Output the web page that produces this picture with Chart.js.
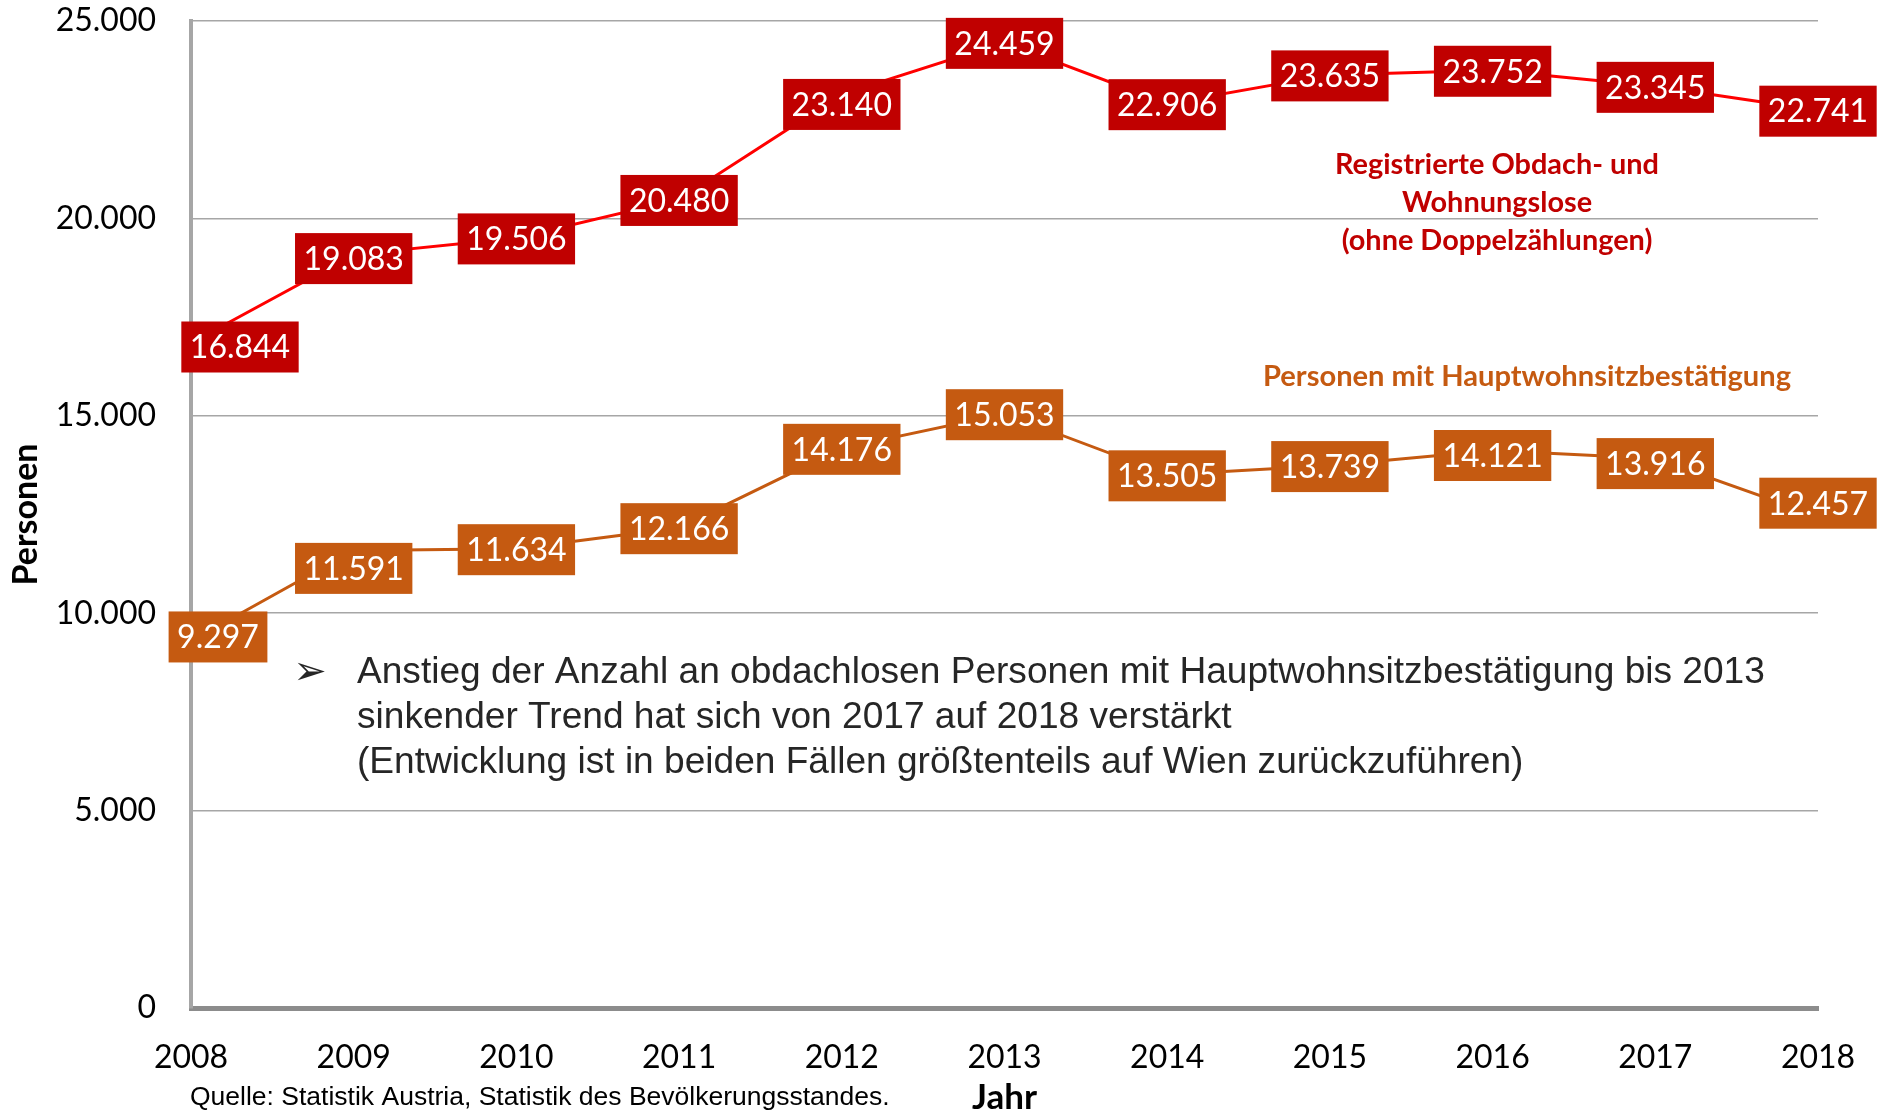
<!DOCTYPE html>
<html lang="de">
<head>
<meta charset="utf-8">
<title>Obdach- und Wohnungslose 2008–2018</title>
<script src="https://cdn.jsdelivr.net/npm/chart.js@4.4.1/dist/chart.umd.min.js"></script>
<style>
  html, body { margin: 0; padding: 0; background: #fff; }
  #chart { display: block; }
</style>
</head>
<body>
<canvas id="chart" width="1877" height="1112"></canvas>
<script>
const years = ['2008', '2009', '2010', '2011', '2012', '2013', '2014', '2015', '2016', '2017', '2018'];
const registrierte = [16844, 19083, 19506, 20480, 23140, 24459, 22906, 23635, 23752, 23345, 22741];
const hauptwohnsitz = [9297, 11591, 11634, 12166, 14176, 15053, 13505, 13739, 14121, 13916, 12457];
const yMin = 0;
const yMax = 25000;
const yStep = 5000;

const RED = '#c00000';
const RED_LINE = '#ff0000';
const ORANGE = '#c55a11';

// manual moves of single value boxes (px), index -> [dx, dy]
const redMoves = { 0: [49, 3], 1: [0, 3], 4: [0, 9] };
const orangeMoves = { 0: [27, -5], 1: [0, 17], 8: [0, 4], 9: [0, 4], 10: [0, -14] };

const fmt = n => String(n).replace(/\B(?=(\d{3})+(?!\d))/g, '.');

const valueBoxes = {
    id: 'valueBoxes',
    afterDatasetsDraw(chart) {
        const ctx = chart.ctx;
        ctx.save();
        ctx.font = '32px Lato';
        ctx.textAlign = 'center';
        ctx.textBaseline = 'middle';
        chart.data.datasets.forEach((ds, i) => {
            const meta = chart.getDatasetMeta(i);
            meta.data.forEach((pt, j) => {
                const [dx, dy] = ds.moves[j] || [0, 0];
                const text = fmt(ds.data[j]);
                const w = ctx.measureText(text).width + 17;
                const h = 51;
                const cx = pt.x + dx;
                const cy = pt.y + dy + 1;
                ctx.fillStyle = ds.boxColor;
                ctx.fillRect(cx - w / 2, cy - h / 2, w, h);
                ctx.fillStyle = '#ffffff';
                ctx.fillText(text, cx, cy + 1);
            });
        });
        ctx.restore();
    }
};

// fits a line of text to a measured width by scaling the font size
function fitFont(ctx, text, width, weight, family) {
    ctx.font = weight + ' 40px ' + family;
    const size = 40 * width / ctx.measureText(text).width;
    return weight + ' ' + size.toFixed(1) + 'px ' + family;
}

const notes = {
    id: 'notes',
    afterDraw(chart) {
        const ctx = chart.ctx;
        ctx.save();
        ctx.textBaseline = 'middle';

        // series names
        ctx.textAlign = 'center';
        ctx.fillStyle = RED;
        ctx.font = fitFont(ctx, 'Registrierte Obdach- und', 324, 'bold', 'Lato');
        ctx.fillText('Registrierte Obdach- und', 1497, 165);
        ctx.fillText('Wohnungslose', 1497, 203);
        ctx.fillText('(ohne Doppelzählungen)', 1497, 241);
        ctx.fillStyle = ORANGE;
        ctx.font = fitFont(ctx, 'Personen mit Hauptwohnsitzbestätigung', 528, 'bold', 'Lato');
        ctx.fillText('Personen mit Hauptwohnsitzbestätigung', 1527, 377);

        // bullet text
        ctx.fillStyle = '#262626';
        ctx.font = '40px "DejaVu Sans"';
        ctx.fillText('\u27A2', 310, 674);
        ctx.textAlign = 'left';
        const line1 = 'Anstieg der Anzahl an obdachlosen Personen mit Hauptwohnsitzbestätigung bis 2013';
        ctx.font = fitFont(ctx, line1, 1410, 'normal', '"Liberation Sans"');
        ctx.fillText(line1, 357, 673);
        ctx.fillText('sinkender Trend hat sich von 2017 auf 2018 verstärkt', 357, 718);
        ctx.fillText('(Entwicklung ist in beiden Fällen größtenteils auf Wien zurückzuführen)', 357, 763);

        // source
        ctx.fillStyle = '#000000';
        const src = 'Quelle: Statistik Austria, Statistik des Bevölkerungsstandes.';
        ctx.font = fitFont(ctx, src, 700, 'normal', '"Liberation Sans"');
        ctx.fillText(src, 190, 1098);
        ctx.restore();
    }
};

const noScalePadding = s => {
    s.paddingTop = 0;
    s.paddingBottom = 0;
    s.paddingLeft = 0;
    s.paddingRight = 0;
};

Chart.defaults.font.family = 'Lato';
Chart.defaults.color = '#000000';

new Chart(document.getElementById('chart').getContext('2d'), {
    type: 'line',
    data: {
        labels: years,
        datasets: [
            {
                label: 'Registrierte Obdach- und Wohnungslose (ohne Doppelzählungen)',
                data: registrierte,
                borderColor: RED_LINE,
                borderWidth: 3,
                pointRadius: 0,
                tension: 0,
                boxColor: RED,
                moves: redMoves
            },
            {
                label: 'Personen mit Hauptwohnsitzbestätigung',
                data: hauptwohnsitz,
                borderColor: ORANGE,
                borderWidth: 3,
                pointRadius: 0,
                tension: 0,
                boxColor: ORANGE,
                moves: orangeMoves
            }
        ]
    },
    options: {
        responsive: false,
        animation: false,
        layout: {
            padding: { top: 21, right: 59, bottom: 0, left: 0 }
        },
        plugins: {
            legend: { display: false },
            tooltip: { enabled: false }
        },
        scales: {
            x: {
                offset: false,
                grid: { display: false, drawTicks: false },
                border: { display: true, color: '#8c8c8c', width: 5 },
                ticks: { font: { size: 32 }, padding: 30, maxRotation: 0 },
                title: {
                    display: true,
                    text: 'Jahr',
                    font: { size: 35, weight: 'bold', lineHeight: 0.8 },
                    padding: { top: 0, bottom: 0 }
                },
                afterFit: s => { s.height = 104; noScalePadding(s); }
            },
            y: {
                min: yMin,
                max: yMax,
                ticks: {
                    stepSize: yStep,
                    font: { size: 32 },
                    padding: 35,
                    callback: v => fmt(v)
                },
                grid: { color: '#a6a6a6', lineWidth: 1.5, drawTicks: false },
                border: { display: true, color: '#a6a6a6', width: 4 },
                title: {
                    display: true,
                    text: 'Personen',
                    font: { size: 34, weight: 'bold', lineHeight: 1.2 },
                    padding: { top: 6, bottom: 0 }
                },
                afterFit: s => { s.width = 191; noScalePadding(s); }
            }
        }
    },
    plugins: [valueBoxes, notes]
});
</script>
</body>
</html>
